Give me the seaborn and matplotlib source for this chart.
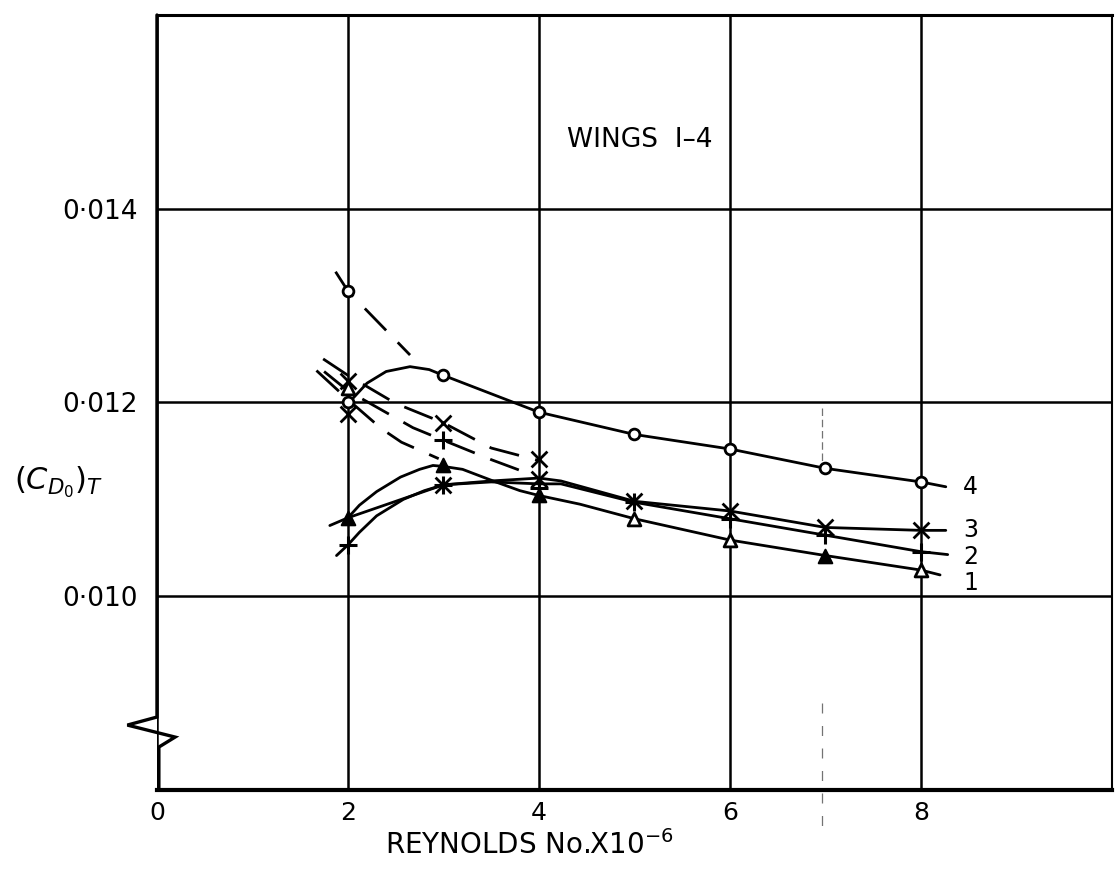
import matplotlib
matplotlib.use("Agg")
import matplotlib.pyplot as plt
import seaborn as sns
import numpy as np
import pandas as pd

# ---------------- data ----------------
# solid curves (Reynolds No. x 1e-6, (C_D0)_T)
wing4_x = [2.03, 2.2, 2.4, 2.65, 2.85, 3.0, 4.0, 5.0, 6.0, 7.0, 8.0, 8.26]
wing4_y = [0.01202, 0.01220, 0.01232, 0.01237, 0.01234, 0.01228, 0.01190, 0.01167, 0.01152, 0.01132, 0.01118, 0.01113]

wing3_x = [2.0, 3.0, 3.5, 4.0, 4.23, 5.0, 6.0, 7.0, 8.0, 8.26]
wing3_y = [0.01081, 0.01115, 0.01119, 0.01122, 0.01119, 0.01098, 0.01088, 0.01071, 0.01068, 0.01068]

wing2_x = [1.88, 2.0, 2.12, 2.3, 2.58, 2.8, 3.0, 3.5, 4.0, 4.23, 5.0, 6.0, 7.0, 8.0, 8.28]
wing2_y = [0.01042, 0.01053, 0.01066, 0.01083, 0.01100, 0.01109, 0.01115, 0.01118, 0.01116, 0.01116, 0.01097, 0.01080, 0.01063, 0.01046, 0.01043]

wing1_x = [1.81, 2.0, 2.12, 2.3, 2.55, 2.75, 2.89, 3.0, 3.2, 3.52, 3.8, 4.0, 4.43, 5.0, 6.0, 7.0, 8.0, 8.2]
wing1_y = [0.01073, 0.01081, 0.01094, 0.01108, 0.01123, 0.01131, 0.01135, 0.01134, 0.01131, 0.01119, 0.01109, 0.01104, 0.01095, 0.01080, 0.01058, 0.01042, 0.01027, 0.01022]

# dashed curves
wing4_dash_x = [1.87, 2.0, 2.65]
wing4_dash_y = [0.01335, 0.01315, 0.01249]
wing3_dash_x = [1.74, 2.0, 2.5, 3.0, 3.5, 4.0]
wing3_dash_y = [0.01245, 0.01228, 0.01199, 0.01179, 0.01153, 0.01140]
wing2_dash_x = [1.75, 2.0, 2.68, 3.0, 3.5, 3.8]
wing2_dash_y = [0.01232, 0.01212, 0.01174, 0.01161, 0.01141, 0.01130]
wing1_dash_x = [1.67, 2.0, 2.35, 2.56, 2.95]
wing1_dash_y = [0.01233, 0.01203, 0.01173, 0.01159, 0.01142]

# plotted points
wing4_pt_x = [2, 2, 3, 4, 5, 6, 7, 8]
wing4_pt_y = [0.01315, 0.01201, 0.01228, 0.01190, 0.01167, 0.01152, 0.01132, 0.01118]
wing3_pt_x = [2, 2, 3, 3, 4, 4, 5, 6, 7, 8]
wing3_pt_y = [0.01222, 0.01188, 0.01179, 0.01115, 0.01142, 0.01121, 0.01098, 0.01088, 0.01071, 0.01068]
wing2_pt_x = [2, 3, 3, 4, 5, 6, 7, 8]
wing2_pt_y = [0.01053, 0.01161, 0.01115, 0.01112, 0.01097, 0.01080, 0.01063, 0.01046]
wing1_pt_x = [2, 2, 3, 4, 5, 6, 7, 8]
wing1_pt_y = [0.01081, 0.01215, 0.01135, 0.01104, 0.01080, 0.01058, 0.01042, 0.01027]
wing1_pt_filled = [True, False, True, True, False, False, True, False]

curve_labels = ["4", "3", "2", "1"]
curve_label_y = [0.01113, 0.01068, 0.01041, 0.01014]

x_ticks = [0, 2, 4, 6, 8]
y_ticks = [0.010, 0.012, 0.014]
y_tick_labels = ["0\u00b7010", "0\u00b7012", "0\u00b7014"]

# ---------------- figure ----------------
sns.set_theme(style="white")
plt.rcParams["font.family"] = ["DejaVu Sans"]

fig = plt.figure(figsize=(11.18, 8.73), dpi=100)
ax = fig.add_axes([0.1404, 0.0951, 0.8542, 0.8877])
ax.set_xlim(0, 10)
ax.set_ylim(0.008, 0.016)

LW = 2.0
solid = [(wing4_x, wing4_y), (wing3_x, wing3_y), (wing2_x, wing2_y), (wing1_x, wing1_y)]
for xs, ys in solid:
    sns.lineplot(x=xs, y=ys, ax=ax, color="black", linewidth=LW, sort=False,
                 estimator=None, zorder=3)

dashed = [(wing4_dash_x, wing4_dash_y), (wing3_dash_x, wing3_dash_y),
          (wing2_dash_x, wing2_dash_y), (wing1_dash_x, wing1_dash_y)]
for xs, ys in dashed:
    sns.lineplot(x=xs, y=ys, ax=ax, color="black", linewidth=LW, sort=False,
                 estimator=None, linestyle=(0, (11, 6)), zorder=3)

# markers
sns.scatterplot(x=wing4_pt_x, y=wing4_pt_y, ax=ax, marker="o", s=60,
                facecolor="white", edgecolor="black", linewidth=2, zorder=5)
sns.scatterplot(x=wing3_pt_x, y=wing3_pt_y, ax=ax, marker="x", s=130,
                color="black", linewidth=2, zorder=5)
sns.scatterplot(x=wing2_pt_x, y=wing2_pt_y, ax=ax, marker="+", s=150,
                color="black", linewidth=2.2, zorder=5)
df1 = pd.DataFrame({"x": wing1_pt_x, "y": wing1_pt_y, "f": wing1_pt_filled})
sns.scatterplot(data=df1[df1.f], x="x", y="y", ax=ax, marker="^", s=95,
                facecolor="black", edgecolor="black", linewidth=1.5, zorder=5)
sns.scatterplot(data=df1[~df1.f], x="x", y="y", ax=ax, marker="^", s=85,
                facecolor="white", edgecolor="black", linewidth=2, zorder=5)

for lab, yv in zip(curve_labels, curve_label_y):
    ax.text(8.52, yv, lab, fontsize=17, ha="center", va="center", color="black")

# grid and frame
ax.set_xticks(x_ticks)
ax.set_xticklabels([str(t) for t in x_ticks], fontsize=18)
ax.set_yticks(y_ticks)
ax.set_yticklabels(y_tick_labels, fontsize=19)
ax.tick_params(axis="x", length=0, pad=8, colors="black")
ax.tick_params(axis="y", length=0, pad=14, colors="black")
ax.grid(True, color="black", linewidth=1.8)
ax.set_xlabel("")
ax.set_ylabel("")
for side in ["top", "right", "bottom"]:
    ax.spines[side].set_color("black")
ax.spines["top"].set_linewidth(2.2)
ax.spines["right"].set_linewidth(1.5)
ax.spines["bottom"].set_linewidth(3.0)
ax.spines["left"].set_visible(False)

# left axis with break symbol
brk_x = [0, 0, -0.31, 0.19, 0.02, 0.02]
brk_y = [0.016, 0.008753, 0.00867, 0.008546, 0.008443, 0.008]
ax.plot(brk_x, brk_y, color="black", linewidth=2.4, clip_on=False, zorder=4,
        solid_joinstyle="miter")

# faint fold line of the scan
ax.plot([6.96, 6.96], [0.01194, 0.01139], color="0.45", linewidth=0.9,
        linestyle=(0, (6, 3)), zorder=2)
ax.plot([6.96, 6.96], [0.00890, 0.00756], color="0.45", linewidth=0.9,
        linestyle=(0, (8, 10)), zorder=2, clip_on=False)

# texts
ax.text(0.506, 0.839, "WINGS  I\u20134", transform=ax.transAxes, fontsize=19,
        ha="center", va="center", color="black")
ax.text(0.39, -0.071, r"REYNOLDS No.X10$^{-6}$", transform=ax.transAxes,
        fontsize=20, ha="center", va="center", color="black")
ax.text(-0.103, 0.397, r"$(C_{D_0})_T$", transform=ax.transAxes, fontsize=22,
        ha="center", va="center", color="black")

fig.savefig("out.png", dpi=100, facecolor="white")
